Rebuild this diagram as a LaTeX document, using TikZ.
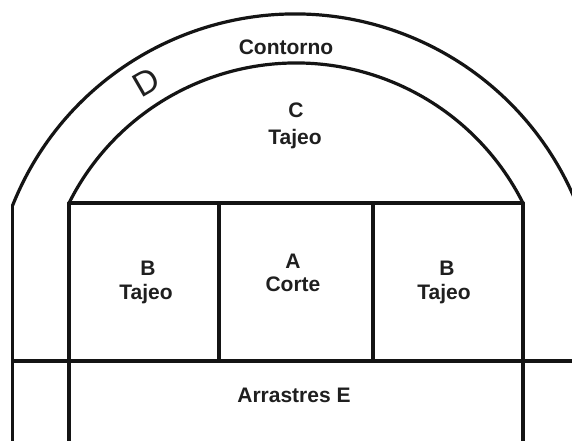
\documentclass[tikz,border=0pt]{standalone}
\usepackage{fontspec}
\setmainfont{Liberation Sans}
\begin{document}
\begin{tikzpicture}[x=1pt,y=1pt,
  wall/.style={line width=3.2pt,line cap=round,line join=round,black!92},
  lbl/.style={anchor=base,inner sep=0pt,font=\fontsize{21}{24}\selectfont\bfseries,text=black!88}]
\useasboundingbox[fill=white] (0,0) rectangle (572,441);
% outer arch with left wall
\draw[wall] (295,123) ++(158.2:304) arc[start angle=158.2,end angle=21.8,radius=304];
\draw[wall] (12.7,236) -- (12.7,-5);
% inner arch
\draw[wall] (296,124) ++(153.4:254) arc[start angle=153.4,end angle=26.6,radius=254];
% inner walls
\draw[wall] (69,238) -- (69,-5);
\draw[wall] (523,238) -- (523,-5);
% horizontals
\draw[wall] (69,238) -- (523,238);
\draw[wall] (12.7,80) -- (580,80);
% dividers
\draw[wall] (219,238) -- (219,80);
\draw[wall] (373,238) -- (373,80);
% labels
\node[lbl] (contorno) at (286,386) {Contorno};
\node[rotate=30,inner sep=0pt,font=\fontsize{34}{34}\selectfont,text=black!88] (d) at (146,359) {D};
\node[lbl] (c1) at (296,323) {C};
\node[lbl] (c2) at (295,296) {Tajeo};
\node[lbl] (bl1) at (148,165) {B};
\node[lbl] (bl2) at (146,141) {Tajeo};
\node[lbl] (a1) at (293,172) {A};
\node[lbl] (a2) at (293,149) {Corte};
\node[lbl] (br1) at (447,165) {B};
\node[lbl] (br2) at (444,141) {Tajeo};
\node[lbl] (e) at (294,38) {Arrastres E};
\end{tikzpicture}
\end{document}
